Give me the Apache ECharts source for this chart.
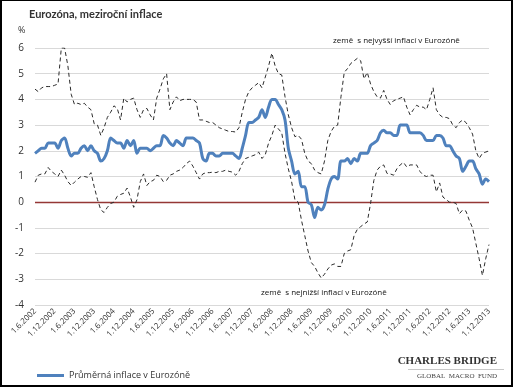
<!DOCTYPE html>
<html><head><meta charset="utf-8">
<script src="https://cdn.jsdelivr.net/npm/echarts@6/dist/echarts.min.js"></script>
<style>
html,body{margin:0;padding:0;background:#fff;}
#wrap{width:513px;height:387px;box-sizing:border-box;border:1px solid #000;border-left-width:2px;border-bottom-width:2px;border-right-width:2px;position:relative;}
#c{position:absolute;left:-2px;top:-1px;width:513px;height:387px;}
</style></head>
<body><div id="wrap"><div id="c"></div></div>
<script>
// Months Jun 2002 .. Dec 2013
const startYear = 2002, startMonth = 6, monthCount = 139;
const categories = [];
for (let k = 0; k < monthCount; k++) {
  const m0 = startMonth - 1 + k;
  categories.push('1.' + (m0 % 12 + 1) + '.' + (startYear + Math.floor(m0 / 12)));
}

const avgName = 'Průměrná inflace v Eurozóně';
const avgInflation = [
  1.9,2.0,2.1,2.1,2.3,2.3,2.3,
  2.1,2.4,2.5,2.1,1.8,1.9,1.9,2.1,2.2,2.0,2.2,2.0,
  1.9,1.6,1.7,2.0,2.5,2.4,2.3,2.3,2.1,2.4,2.2,2.4,
  1.9,2.1,2.1,2.1,2.0,2.1,2.2,2.2,2.6,2.5,2.3,2.2,
  2.4,2.3,2.2,2.5,2.5,2.5,2.4,2.3,1.7,1.6,1.9,1.9,
  1.8,1.8,1.9,1.9,1.9,1.9,1.8,1.7,2.1,2.6,3.1,3.1,
  3.2,3.3,3.6,3.3,3.7,4.0,4.0,3.8,3.6,3.2,2.1,1.6,
  1.1,1.2,0.6,0.6,0.0,-0.1,-0.6,-0.2,-0.3,-0.1,0.5,0.9,
  1.0,0.9,1.6,1.6,1.7,1.5,1.7,1.6,1.9,1.9,1.9,2.2,
  2.3,2.4,2.7,2.8,2.7,2.7,2.6,2.6,3.0,3.0,3.0,2.7,
  2.7,2.7,2.7,2.6,2.4,2.4,2.4,2.6,2.6,2.5,2.2,2.2,
  2.0,1.8,1.7,1.2,1.4,1.6,1.6,1.3,1.1,0.7,0.9,0.8
];
const maxInflation = [
  4.4,4.3,4.45,4.5,4.5,4.5,4.55,4.6,6.0,6.0,
  5.3,4.2,3.8,3.85,3.8,3.85,3.7,3.6,3.05,3.0,
  2.6,2.9,3.3,3.5,3.75,3.65,3.2,4.05,3.9,4.0,
  4.05,3.6,3.3,3.6,3.65,3.4,3.2,4.05,4.4,4.8,
  5.0,3.6,3.9,4.1,3.95,4.0,4.0,4.0,4.0,3.9,
  3.2,3.2,3.15,3.1,3.1,3.0,2.9,2.85,2.8,2.75,
  2.75,2.73,2.9,3.5,4.0,4.3,4.45,4.55,4.65,4.45,
  4.87,5.3,5.8,5.3,5.0,4.95,4.1,3.4,2.9,2.55,
  2.6,2.45,1.9,1.6,1.5,1.25,1.15,1.1,1.6,2.4,
  2.75,2.95,3.0,4.1,5.05,5.2,5.4,5.5,5.6,5.5,
  4.8,5.05,4.6,4.3,4.1,4.05,4.35,4.0,3.8,3.95,
  4.0,4.05,4.1,3.7,3.4,3.6,3.77,3.7,3.7,3.6,
  4.0,4.45,3.6,3.4,3.3,3.3,3.25,3.0,2.9,3.1,
  3.2,3.1,2.9,2.65,2.0,1.7,1.9,1.95,2.0
];
const minInflation = [
  0.78,1.05,1.1,1.1,1.35,1.2,1.1,1.0,1.25,1.05,
  0.8,0.65,0.78,0.9,1.0,1.0,0.97,1.15,0.6,0.1,
  -0.3,-0.4,-0.2,-0.05,0.0,0.23,0.3,0.35,0.55,0.2,
  -0.2,0.1,0.8,1.1,0.65,0.8,0.85,1.05,1.0,0.8,
  0.85,1.05,1.1,1.2,1.25,1.35,1.5,1.6,1.4,1.15,
  0.9,1.1,1.15,1.15,1.17,1.15,1.2,1.2,1.25,1.2,
  1.17,1.05,1.2,1.5,1.7,1.75,1.8,1.85,1.95,1.7,
  1.85,2.3,2.6,3.0,2.85,2.7,1.9,1.3,0.8,0.1,
  0.0,-0.7,-1.3,-1.9,-2.35,-2.5,-2.75,-2.95,-2.8,-2.6,
  -2.45,-2.4,-2.5,-2.5,-2.0,-1.9,-1.85,-1.3,-1.05,-0.95,
  -0.85,-0.77,-0.05,0.85,1.25,1.4,1.45,1.12,1.1,1.05,
  1.3,1.45,1.55,1.37,1.45,1.45,1.45,1.2,1.05,1.0,
  1.05,1.05,0.4,0.75,0.2,0.1,0.0,0.0,-0.05,-0.45,
  -0.3,-0.35,-0.7,-1.0,-1.6,-2.2,-2.85,-2.2,-1.65
];
const yTicks = {min: -4, max: 6, interval: 1};

const chart = echarts.init(document.getElementById('c'), null, {renderer: 'canvas'});
const dashStyle = {color: '#2b2b2b', width: 1, type: [4, 3]};
const sans = 'Open Sans, Liberation Sans, sans-serif';
const serif = 'Liberation Serif, DejaVu Serif, serif';
chart.setOption({
  animation: false,
  backgroundColor: 'transparent',
  textStyle: {fontFamily: sans},
  title: {
    text: 'Eurozóna, meziroční inflace', left: 29, top: 9, padding: 0,
    textStyle: {fontSize: 11, fontWeight: 'bold', color: '#333', fontFamily: 'Lato, sans-serif'}
  },
  grid: {left: 35, right: 24, top: 48, bottom: 82, containLabel: false},
  legend: {
    data: [avgName], left: 32, top: 366, itemWidth: 27, itemHeight: 3,
    icon: 'rect', itemGap: 4,
    textStyle: {fontSize: 9, color: '#333', fontFamily: sans}
  },
  xAxis: {
    type: 'category', data: categories, boundaryGap: false,
    axisLine: {show: false}, axisTick: {show: false},
    axisLabel: {interval: 5, rotate: 45, fontSize: 8, color: '#333', margin: 5, fontFamily: sans},
    splitLine: {show: false}
  },
  yAxis: {
    type: 'value', min: yTicks.min, max: yTicks.max, interval: yTicks.interval,
    axisLine: {show: false}, axisTick: {show: false},
    axisLabel: {fontSize: 10, color: '#333', margin: 11, fontFamily: sans},
    splitLine: {lineStyle: {color: '#d9d9d9', width: 1}}
  },
  series: [
    {name: 'max', type: 'line', data: maxInflation, symbol: 'none', lineStyle: dashStyle, z: 2},
    {name: 'min', type: 'line', data: minInflation, symbol: 'none', lineStyle: dashStyle, z: 2},
    {name: avgName, type: 'line', data: avgInflation, symbol: 'none', smooth: 0.3,
      itemStyle: {color: '#4f81bd'},
      lineStyle: {color: '#4f81bd', width: 3}, z: 3,
      markLine: {silent: true, symbol: 'none', label: {show: false},
        lineStyle: {color: '#953735', width: 1.3, type: 'solid'},
        data: [{yAxis: 0}], z: 1}
    }
  ],
  graphic: [
    {type: 'text', x: 18, y: 26, style: {text: '%', fontSize: 9, fill: '#333', fontFamily: sans, verticalAlign: 'top'}},
    {type: 'text', x: 333, y: 37, style: {text: 'země  s nejvyšší inflací v Eurozóně', fontSize: 8, fill: '#111', fontFamily: sans, verticalAlign: 'top'}},
    {type: 'text', x: 261, y: 289, style: {text: 'země  s nejnižší inflací v Eurozóně', fontSize: 8, fill: '#111', fontFamily: sans, verticalAlign: 'top'}},
    {type: 'text', x: 497, y: 356, style: {text: 'CHARLES BRIDGE', fontSize: 11, fontWeight: 'bold', fill: '#333', fontFamily: serif, align: 'right', verticalAlign: 'top'}},
    {type: 'rect', shape: {x: 408, y: 369, width: 96, height: 1}, style: {fill: '#c8c8c8'}},
    {type: 'text', x: 497, y: 373, style: {text: 'GLOBAL  MACRO  FUND', fontSize: 7, fill: '#444', fontFamily: serif, align: 'right', verticalAlign: 'top'}}
  ]
});
</script></body></html>
